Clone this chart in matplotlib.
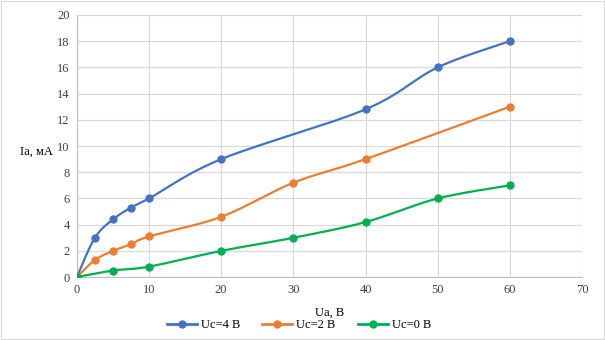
import matplotlib.pyplot as plt
import numpy as np

plt.rcParams['font.family'] = ['Liberation Serif', 'DejaVu Serif']

ua_4 = [0, 2.5, 5, 7.5, 10, 20, 40, 50, 60]
ia_4 = [0, 3.0, 4.4, 5.3, 6.0, 9.0, 12.8, 16.0, 18.0]

ua_2 = [0, 2.5, 5, 7.5, 10, 20, 30, 40, 60]
ia_2 = [0, 1.3, 2.0, 2.5, 3.1, 4.6, 7.2, 9.0, 13.0]

ua_0 = [0, 5, 10, 20, 30, 40, 50, 60]
ia_0 = [0, 0.5, 0.8, 2.0, 3.0, 4.2, 6.0, 7.0]

labels = ['Uc=4 B', 'Uc=2 B', 'Uc=0 B']
colors = ['#4472c4', '#ed7d31', '#00b050']


def smooth(x, y, n=30):
    # Excel-like smoothed line: cubic Bezier segments with Catmull-Rom handles
    x = np.asarray(x, float)
    y = np.asarray(y, float)
    px = np.concatenate([[x[0]], x, [x[-1]]])
    py = np.concatenate([[y[0]], y, [y[-1]]])
    xs, ys = [], []
    t = np.linspace(0, 1, n)
    for i in range(1, len(px) - 2):
        p0 = np.array([px[i], py[i]])
        p3 = np.array([px[i + 1], py[i + 1]])
        c1 = p0 + (np.array([px[i + 1], py[i + 1]]) - np.array([px[i - 1], py[i - 1]])) / 6
        c2 = p3 - (np.array([px[i + 2], py[i + 2]]) - np.array([px[i], py[i]])) / 6
        b = ((1 - t) ** 3)[:, None] * p0 + (3 * (1 - t) ** 2 * t)[:, None] * c1 \
            + (3 * (1 - t) * t ** 2)[:, None] * c2 + (t ** 3)[:, None] * p3
        xs.extend(b[:, 0])
        ys.extend(b[:, 1])
    return xs, ys


fig = plt.figure(figsize=(6.05, 3.4), dpi=100)
fig.patches.append(plt.Rectangle((0.001, 0.002), 0.997, 0.995, transform=fig.transFigure,
                                 fill=False, edgecolor='#d9d9d9', linewidth=0.8))
ax = fig.add_axes([0.127, 0.185, 0.835, 0.771])

handles = []
for xv, yv, lab, col in zip([ua_4, ua_2, ua_0], [ia_4, ia_2, ia_0], labels, colors):
    sx, sy = smooth(xv, yv)
    ax.plot(sx, sy, color=col, linewidth=1.6, zorder=3)
    ax.plot(xv, yv, 'o', color=col, markersize=5, zorder=4)
    h, = ax.plot([], [], '-o', color=col, linewidth=2, markersize=5, label=lab)
    handles.append(h)

ax.set_xlim(0, 70)
ax.set_ylim(0, 20)
ax.set_xticks(range(0, 71, 10))
ax.set_yticks(range(0, 21, 2))
ax.grid(True, color='#d9d9d9', linewidth=0.9)
ax.set_axisbelow(True)
for s in ['top', 'right']:
    ax.spines[s].set_visible(False)
for s in ['left', 'bottom']:
    ax.spines[s].set_color('#bfbfbf')
ax.tick_params(length=0, pad=5, labelsize=9, labelcolor='#404040')

fig.text(0.061, 0.555, 'Ia, мА', fontsize=9, ha='center', va='center')
fig.text(0.545, 0.08, 'Uа, В', fontsize=9, ha='center', va='center')
fig.legend(handles=handles, loc='center', bbox_to_anchor=(0.494, 0.044), ncol=3,
           frameon=False, fontsize=9, handlelength=2.4, columnspacing=1.8,
           handletextpad=0.3)

plt.savefig('out.png', dpi=100)
